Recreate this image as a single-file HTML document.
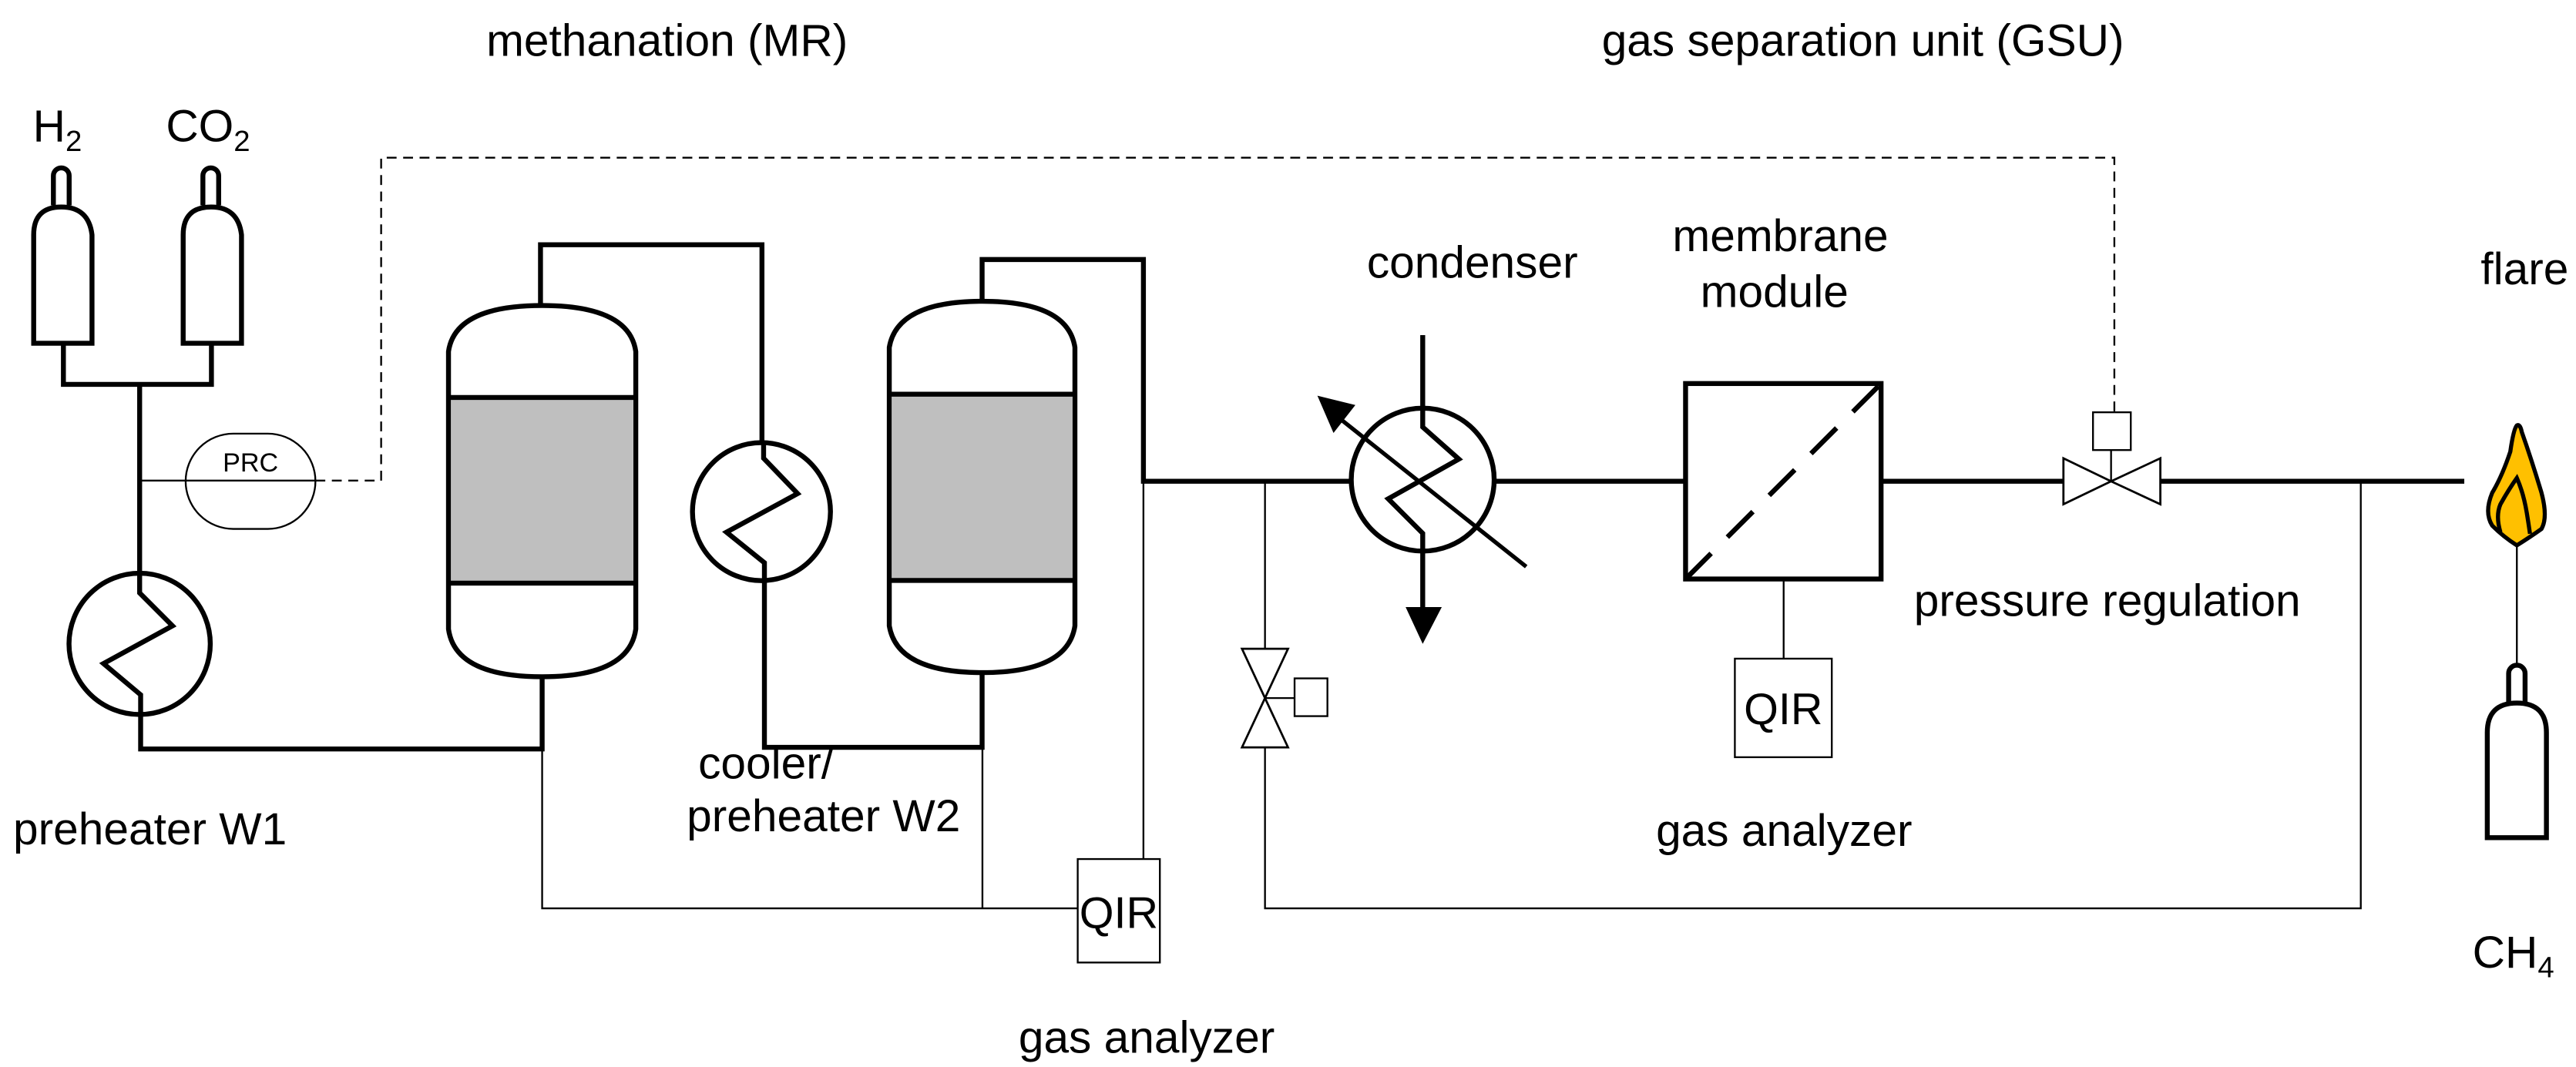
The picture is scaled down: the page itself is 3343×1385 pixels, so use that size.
<!DOCTYPE html>
<html><head><meta charset="utf-8"><style>
html,body{margin:0;padding:0;background:#fff;}
svg{display:block;}
text{font-family:"Liberation Sans",Arial,sans-serif;fill:#000;}
</style></head><body>
<svg width="3343" height="1385" viewBox="0 0 1568 649.6" xmlns="http://www.w3.org/2000/svg">
<g fill="none" stroke="#000" stroke-width="3" stroke-linejoin="miter">
<!-- H2 cylinder -->
<path d="M32.5,125 V107 a4.8,4.8 0 0 1 9.6,0 V125"/>
<path d="M20.5,209 V143 Q20.5,126 37.3,126 Q54,126 56,143 V209 Z"/>
<!-- CO2 cylinder -->
<path d="M123.5,125 V107 a4.8,4.8 0 0 1 9.6,0 V125"/>
<path d="M111.5,209 V143 Q111.5,126 128.5,126 Q145,126 147,143 V209 Z"/>
<path d="M38.6,209 V234 H128.7 V209"/>
<path d="M85,234 V349"/>
<!-- preheater W1 -->
<circle cx="85" cy="392" r="43"/>
<path d="M85,349 V361 L105,381 L63,404 L85.6,423 V456 H330 V412"/>
<!-- reactor 1 -->
<path d="M273,214 Q277,186 330,186 Q383,186 387,214 V383 Q383,412 330,412 Q277,412 273,383 Z"/>
<rect x="274.5" y="242" width="111" height="113" fill="#bfbfbf" stroke="none"/>
<path d="M273,242 H387 M273,355 H387"/>
<path d="M329,186 V149 H463.8 V269"/>
<!-- W2 -->
<circle cx="463.5" cy="311.5" r="42"/>
<path d="M464.8,269 V279 L485.5,300.5 L442.2,324 L465.3,342.6 V455 H597.8 V409.5"/>
<!-- reactor 2 -->
<path d="M541.3,211.5 Q546,183.4 598,183.4 Q650,183.4 654.3,211.5 V381 Q650,409.5 598,409.5 Q546,409.5 541.3,381 Z"/>
<rect x="542.8" y="240" width="110" height="113" fill="#bfbfbf" stroke="none"/>
<path d="M541.3,240 H654.3 M541.3,353.4 H654.3"/>
<path d="M597.8,183.4 V158 H696 V293 H822"/>
<!-- condenser -->
<circle cx="866" cy="292" r="43.5"/>
<path d="M866,204 V260 L888,279.5 L845,303.7 L866,324.7 V372"/>
<path d="M929,345 L812,252" stroke-width="2.5"/>
<path d="M910,293 H1026 M1145,293 H1256 M1315,293 H1500"/>
<!-- membrane -->
<rect x="1026" y="233.5" width="119" height="119"/>
<path d="M1026,352.5 L1145,233.5" stroke-dasharray="22,14"/>
<!-- valve horizontal -->
<path d="M1256,279 L1285,293 L1256,307 Z M1315,279 L1285,293 L1315,307 Z" stroke-width="1.3"/>
<!-- vertical valve -->
<path d="M756,395 L770,425 L784,395 Z M756,455 L770,425 L784,455 Z" stroke-width="1.3"/>
</g>
<!-- arrowheads -->
<polygon points="866,392 855.6,369.6 877.6,369.6" fill="#000"/>
<polygon points="801.9,240.9 825,246.6 811.7,263.6" fill="#000"/>
<g fill="none" stroke="#000" stroke-width="1.1">
<path d="M85,292.6 H192"/>
<rect x="113" y="264" width="79" height="58" rx="29" ry="29"/>
<path d="M1285,293 V274 M770,425 H788"/>
<rect x="1274" y="251" width="23" height="23"/>
<rect x="788" y="413" width="20" height="23"/>
<path d="M330,456 V553 H656 M598,455 V553 M696,293 V523"/>
<rect x="656" y="523" width="50" height="63"/>
<path d="M1085.7,352.5 V401"/>
<rect x="1056" y="401" width="59" height="60"/>
<path d="M770,293 V395 M770,455 V553 H1437 V293"/>
<path d="M1532,332 V405"/>
</g>
<path d="M192,292.6 H232 V96 H1287 V251" fill="none" stroke="#000" stroke-width="1.1" stroke-dasharray="6,4"/>
<!-- flare -->
<path d="M1532,259 Q1530,261 1528,275 Q1523,290 1517,300 Q1512,312 1517,320 Q1524,327 1532,332 Q1540,327 1547,322 Q1551,315 1547,300 Q1541,280 1535,263 Q1534,258 1532,259 Z" fill="#ffc000" stroke="#000" stroke-width="2.5"/>
<path d="M1522,324 Q1519,314 1522,307 Q1527,298 1532,291 Q1536,300 1538,312 Q1539,318 1540,325" fill="none" stroke="#000" stroke-width="2.5"/>
<!-- CH4 cylinder -->
<g fill="none" stroke="#000" stroke-width="3">
<path d="M1527,428 V410 a5,5 0 0 1 10,0 V428"/>
<path d="M1514,510 V446 Q1514,428 1532,428 Q1550,428 1550,446 V510 Z"/>
</g>
<!-- labels -->
<g font-size="27.5">
<text x="296" y="34">methanation (MR)</text>
<text x="975" y="34">gas separation unit (GSU)</text>
<text x="20" y="86">H<tspan font-size="18" dy="6">2</tspan></text>
<text x="101" y="86">CO<tspan font-size="18" dy="6">2</tspan></text>
<text x="832" y="169">condenser</text>
<text x="1018" y="153">membrane</text>
<text x="1035" y="187">module</text>
<text x="1510" y="173">flare</text>
<text x="1165" y="375">pressure regulation</text>
<text x="8" y="514">preheater W1</text>
<text x="425" y="474">cooler/</text>
<text x="418" y="506">preheater W2</text>
<text x="1008" y="515">gas analyzer</text>
<text x="620" y="641">gas analyzer</text>
<text x="1505" y="589">CH<tspan font-size="18" dy="6">4</tspan></text>
</g>
<g font-size="27" text-anchor="middle">
<text x="681" y="565">QIR</text>
<text x="1085.5" y="441">QIR</text>
</g>
<text x="152.5" y="287" font-size="16" text-anchor="middle">PRC</text>
</svg>
</body></html>
